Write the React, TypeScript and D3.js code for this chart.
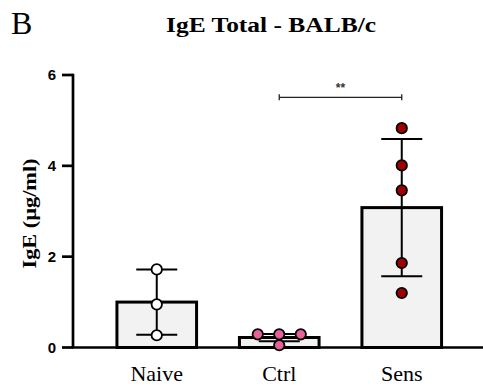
import * as d3 from "d3";
import React from "react";

// groups and summary values (µg/ml)
const categories = ["Naive", "Ctrl", "Sens"];
const means = [1.0, 0.22, 3.08];
const sds = [0.72, 0.08, 1.51];
const points = [
  [1.72, 0.95, 0.27],
  [0.29, 0.29, 0.29, 0.05],
  [4.83, 4.01, 3.46, 1.86, 1.2],
];
const pointColors = ["#ffffff", "#e8609a", "#a00000"];
const yTicks = [0, 2, 4, 6];
const title = "IgE Total - BALB/c";
const yLabel = "IgE (µg/ml)";
const panel = "B";
const stars = "**";
const compare = [1, 2];

const width = 483;
const height = 390;
const axisX = 73;

// spread points sharing the same value horizontally (simple swarm)
const swarm = (vals: number[], gap: number) => {
  const groups = d3.group(vals.map((v, i) => ({ v, i })), (d) => d.v.toFixed(2));
  const off = new Array(vals.length).fill(0);
  groups.forEach((g) => {
    g.forEach((d, k) => {
      off[d.i] = (k - (g.length - 1) / 2) * gap;
    });
  });
  return off;
};

export default function App() {
  const y = d3.scaleLinear().domain([0, 6]).range([347.5, 75]);
  const x = d3
    .scaleBand<string>()
    .domain(categories)
    .range([95.5, 463])
    .paddingInner(0.35)
    .paddingOuter(0.175);
  const bw = x.bandwidth();
  const cx = (c: string) => x(c)! + bw / 2;
  const capHalf = 20.5;

  const x1 = cx(categories[compare[0]]);
  const x2 = cx(categories[compare[1]]);
  const by = 97.3;

  return (
    <div>
      <style>{`body{margin:0}`}</style>
      <svg width={width} height={height} style={{ display: "block", background: "#fff" }}>
        <text x={11} y={34} fontFamily="Liberation Serif" fontSize={32}>
          {panel}
        </text>
        <text
          x={166}
          y={31.5}
          fontFamily="Liberation Serif"
          fontWeight="bold"
          fontSize={20}
          textLength={210}
          lengthAdjust="spacingAndGlyphs"
        >
          {title}
        </text>

        {/* y axis label */}
        <text
          transform={`translate(35.5,213.5) rotate(-90)`}
          textAnchor="middle"
          fontFamily="Liberation Serif"
          fontWeight="bold"
          fontSize={19}
          textLength={110}
          lengthAdjust="spacingAndGlyphs"
        >
          {yLabel}
        </text>

        {/* bars */}
        {categories.map((c, i) => (
          <rect
            key={c}
            x={x(c)}
            y={y(means[i])}
            width={bw}
            height={y(0) - y(means[i])}
            fill="#f2f2f2"
            stroke="#000"
            strokeWidth={3}
          />
        ))}

        {/* error bars */}
        {categories.map((c, i) => {
          const hi = y(means[i] + sds[i]);
          const lo = y(Math.max(0, means[i] - sds[i]));
          return (
            <g key={c} stroke="#000" strokeWidth={2}>
              <line x1={cx(c)} x2={cx(c)} y1={hi} y2={lo} />
              <line x1={cx(c) - capHalf} x2={cx(c) + capHalf} y1={hi} y2={hi} />
              <line x1={cx(c) - capHalf} x2={cx(c) + capHalf} y1={lo} y2={lo} />
            </g>
          );
        })}

        {/* axes */}
        <g stroke="#000" strokeWidth={2.7}>
          <line x1={axisX} x2={axisX} y1={y(6) - 1.3} y2={y(0)} />
          <line x1={axisX - 1.35} x2={width} y1={y(0)} y2={y(0)} />
          {yTicks.map((t) => (
            <line key={t} x1={62} x2={axisX} y1={y(t)} y2={y(t)} />
          ))}
        </g>
        {yTicks.map((t) => (
          <text
            key={t}
            x={56}
            y={y(t)}
            dy="0.36em"
            textAnchor="end"
            fontFamily="Liberation Sans"
            fontWeight="bold"
            fontSize={15}
          >
            {t}
          </text>
        ))}
        {categories.map((c) => (
          <text
            key={c}
            x={cx(c)}
            y={381.5}
            textAnchor="middle"
            fontFamily="Liberation Serif"
            fontSize={20}
            transform={`translate(${cx(c)},0) scale(1.1,1) translate(${-cx(c)},0)`}
          >
            {c}
          </text>
        ))}

        {/* points */}
        {categories.map((c, i) => {
          const off = swarm(points[i], 21.5);
          return points[i].map((v, k) => (
            <circle
              key={c + k}
              cx={cx(c) + off[k]}
              cy={y(v)}
              r={5.2}
              fill={pointColors[i]}
              stroke="#000"
              strokeWidth={1.8}
            />
          ));
        })}

        {/* significance bracket */}
        <g stroke="#222" strokeWidth={1.3}>
          <line x1={x1} x2={x2} y1={by} y2={by} />
          <line x1={x1} x2={x1} y1={by - 3} y2={by + 3} />
          <line x1={x2} x2={x2} y1={by - 3} y2={by + 3} />
        </g>
        <text
          x={(x1 + x2) / 2}
          y={92}
          textAnchor="middle"
          fontFamily="Liberation Sans"
          fontWeight="bold"
          fontSize={12}
          fill="#333"
        >
          {stars}
        </text>
      </svg>
    </div>
  );
}
